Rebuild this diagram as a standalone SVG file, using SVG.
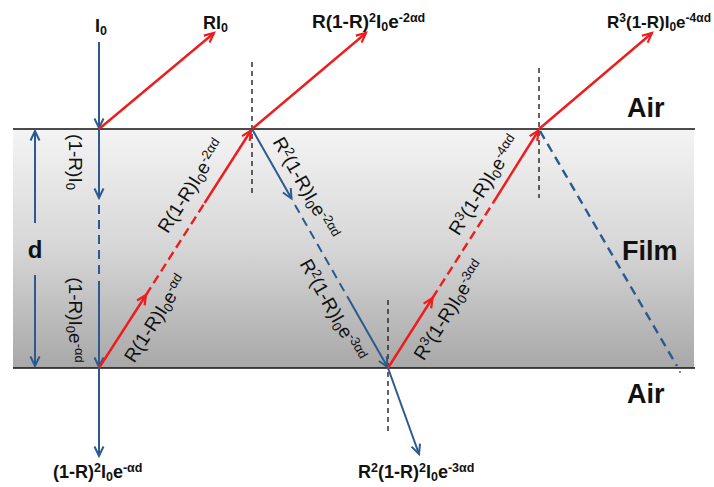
<svg xmlns="http://www.w3.org/2000/svg" width="714" height="487" viewBox="0 0 714 487">
<defs>
<linearGradient id="film" x1="0" y1="0" x2="0" y2="1">
<stop offset="0" stop-color="#f4f4f4"/>
<stop offset="0.5" stop-color="#d6d6d6"/>
<stop offset="1" stop-color="#a8a8a8"/>
</linearGradient>
<marker id="ab" markerUnits="userSpaceOnUse" markerWidth="14" markerHeight="14" refX="10" refY="5" orient="auto" overflow="visible">
<path d="M0.5,0.5 L10,5 L0.5,9.5" fill="none" stroke="#2c5a8e" stroke-width="2"/>
</marker>
<marker id="ar" markerUnits="userSpaceOnUse" markerWidth="14" markerHeight="14" refX="10" refY="5" orient="auto" overflow="visible">
<path d="M0.5,0.5 L10,5 L0.5,9.5" fill="none" stroke="#ee1c1c" stroke-width="2.2"/>
</marker>
</defs>
<style>
text{font-family:"Liberation Sans",Arial,sans-serif;fill:#111}
.h{font-size:18px;font-weight:bold}
.r{font-size:19px}
.big{font-size:27px;font-weight:bold}
.sub{font-size:13px;baseline-shift:-3px}
.sup{font-size:13px;baseline-shift:6px}
.h .sub,.h .sup{font-size:12.5px}
.blue{stroke:#2c5a8e;stroke-width:2;fill:none}
.red{stroke:#ee1c1c;stroke-width:2.4;fill:none}
.bd{stroke-dasharray:9 6}
.rd{stroke-dasharray:9 5}
.norm{stroke:#222;stroke-width:1.4;stroke-dasharray:5 4;fill:none}
.ba{marker-end:url(#ab)}
.ra{marker-end:url(#ar)}
</style>

<g id="film-layer">
<rect x="13" y="129" width="681" height="239" fill="url(#film)"/>
<line x1="13" y1="129" x2="695" y2="129" stroke="#111" stroke-width="1.6"/>
<line x1="13" y1="368" x2="695" y2="368" stroke="#111" stroke-width="1.6"/>
</g>

<g id="connectors">
<line class="norm" x1="252" y1="62" x2="252" y2="193"/>
<line class="norm" x1="539" y1="68" x2="539" y2="198"/>
<line class="norm" x1="388" y1="300" x2="388" y2="431"/>
<line class="blue ba" x1="35" y1="223" x2="35" y2="131"/>
<line class="blue ba" x1="35" y1="275" x2="35" y2="366"/>
<line class="blue ba" x1="99" y1="42" x2="99" y2="128"/>
<line class="blue ba" x1="99" y1="130" x2="99" y2="198"/>
<line class="blue bd" x1="99" y1="205" x2="99" y2="277"/>
<line class="blue ba" x1="99" y1="281" x2="99" y2="367"/>
<line class="blue ba" x1="99" y1="368" x2="99" y2="456"/>
<line class="red ra" x1="99" y1="129" x2="214" y2="33"/>
<line class="red ra" x1="252" y1="129" x2="366" y2="33"/>
<line class="red ra" x1="539" y1="129" x2="652" y2="33"/>
<line class="red ra" x1="99" y1="368" x2="146" y2="295"/>
<line class="red rd" x1="146" y1="295" x2="204.6" y2="203"/>
<line class="red ra" x1="204.6" y1="203" x2="251" y2="130.5"/>
<line class="blue ba" x1="252" y1="129" x2="291.5" y2="198.5"/>
<line class="blue bd" x1="295" y1="205" x2="347.6" y2="297"/>
<line class="blue ba" x1="347.6" y1="297" x2="387.5" y2="367"/>
<line class="blue ba" x1="388" y1="368" x2="419" y2="454"/>
<line class="red ra" x1="388" y1="368" x2="432.5" y2="298"/>
<line class="red rd" x1="432.5" y1="298" x2="493" y2="203"/>
<line class="red ra" x1="493" y1="203" x2="538.5" y2="130.5"/>
<line class="blue bd" x1="540" y1="131" x2="677" y2="366" style="stroke-width:2.4"/>
<circle cx="680" cy="372" r="0.9" fill="#555"/>
</g>

<g id="label-I0"><text class="h" x="95" y="32">I<tspan class="sub">0</tspan></text></g>
<g id="label-RI0"><text class="h" x="203" y="29">RI<tspan class="sub">0</tspan></text></g>
<g id="label-R1R2"><text class="h" x="312" y="28" style="font-size:19px">R(1-R)<tspan class="sup">2</tspan>I<tspan class="sub">0</tspan>e<tspan class="sup">-2αd</tspan></text></g>
<g id="label-R3"><text class="h" x="607" y="28" style="font-size:17px">R<tspan class="sup" style="font-size:12px">3</tspan>(1-R)I<tspan class="sub" style="font-size:12px">0</tspan>e<tspan class="sup" style="font-size:12px">-4αd</tspan></text></g>
<g id="label-T1"><text class="h" x="53" y="478">(1-R)<tspan class="sup">2</tspan>I<tspan class="sub">0</tspan>e<tspan class="sup">-αd</tspan></text></g>
<g id="label-T2"><text class="h" x="358" y="478">R<tspan class="sup">2</tspan>(1-R)<tspan class="sup">2</tspan>I<tspan class="sub">0</tspan>e<tspan class="sup">-3αd</tspan></text></g>

<g id="label-air-top"><text class="big" x="627" y="117">Air</text></g>
<g id="label-film"><text class="big" x="622" y="260">Film</text></g>
<g id="label-air-bottom"><text class="big" x="627" y="403">Air</text></g>
<g id="label-d"><text x="35" y="258" text-anchor="middle" style="font-size:24px;font-weight:bold">d</text></g>

<g id="label-A"><text class="r" transform="translate(75,162) rotate(90)" x="0" y="6.5" text-anchor="middle">(1-R)I<tspan class="sub">0</tspan></text></g>
<g id="label-B"><text class="r" transform="translate(75,320) rotate(90)" x="0" y="6.5" text-anchor="middle">(1-R)I<tspan class="sub">0</tspan>e<tspan class="sup">-αd</tspan></text></g>
<g id="label-C"><text class="r" transform="translate(191,186) rotate(-57.4)" x="0" y="6.5" text-anchor="middle">R(1-R)I<tspan class="sub">0</tspan>e<tspan class="sup">-2αd</tspan></text></g>
<g id="label-D"><text class="r" transform="translate(155.5,318.5) rotate(-57.4)" x="0" y="6.5" text-anchor="middle">R(1-R)I<tspan class="sub">0</tspan>e<tspan class="sup">-αd</tspan></text></g>
<g id="label-E"><text class="r" transform="translate(306,188) rotate(60.4)" x="0" y="6.5" text-anchor="middle">R<tspan class="sup">2</tspan>(1-R)I<tspan class="sub">0</tspan>e<tspan class="sup">-2αd</tspan></text></g>
<g id="label-F"><text class="r" transform="translate(333,310) rotate(60.4)" x="0" y="6.5" text-anchor="middle">R<tspan class="sup">2</tspan>(1-R)I<tspan class="sub">0</tspan>e<tspan class="sup">-3αd</tspan></text></g>
<g id="label-G"><text class="r" transform="translate(449,310) rotate(-57.4)" x="0" y="6.5" text-anchor="middle">R<tspan class="sup">3</tspan>(1-R)I<tspan class="sub">0</tspan>e<tspan class="sup">-3αd</tspan></text></g>
<g id="label-H"><text class="r" transform="translate(484,185) rotate(-57.4)" x="0" y="6.5" text-anchor="middle">R<tspan class="sup">3</tspan>(1-R)I<tspan class="sub">0</tspan>e<tspan class="sup">-4αd</tspan></text></g>
</svg>
